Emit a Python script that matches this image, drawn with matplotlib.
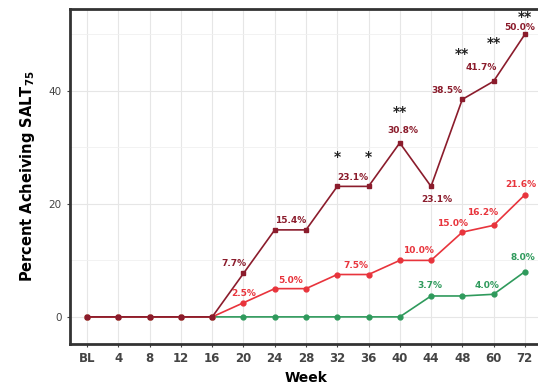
import matplotlib.pyplot as plt
import numpy as np

weeks = ['BL', '4', '8', '12', '16', '20', '24', '28', '32', '36', '40', '44', '48', '60', '72']
high_dose = [0, 0, 0, 0, 0, 7.7, 15.4, 15.4, 23.1, 23.1, 30.8, 23.1, 38.5, 41.7, 50.0]
low_dose = [0, 0, 0, 0, 0, 2.5, 5.0, 5.0, 7.5, 7.5, 10.0, 10.0, 15.0, 16.2, 21.6]
placebo = [0, 0, 0, 0, 0, 0, 0, 0, 0, 0, 0, 3.7, 3.7, 4.0, 8.0]

# (index, label text) pairs for value annotations
high_labels = [(5, '7.7%'), (6, '15.4%'), (8, '23.1%'), (10, '30.8%'), (11, '23.1%'),
               (12, '38.5%'), (13, '41.7%'), (14, '50.0%')]
low_labels = [(5, '2.5%'), (6, '5.0%'), (8, '7.5%'), (10, '10.0%'), (12, '15.0%'),
              (13, '16.2%'), (14, '21.6%')]
pbo_labels = [(11, '3.7%'), (13, '4.0%'), (14, '8.0%')]
stars = [(8, '*'), (9, '*'), (10, '**'), (12, '**'), (13, '**'), (14, '**')]

c_high = '#8b1c2c'
c_low = '#e8343c'
c_pbo = '#2f9a5c'

fig = plt.figure(figsize=(5.38, 3.84), dpi=100)
ax = fig.add_axes([70 / 538, 1 - 344 / 384, 472 / 538, 335 / 384])

x = np.arange(len(weeks))
ax.plot(x, placebo, color=c_pbo, lw=1.2, marker='o', ms=3.5, zorder=3)
ax.plot(x, low_dose, color=c_low, lw=1.2, marker='o', ms=3.5, zorder=4)
ax.plot(x, high_dose, color=c_high, lw=1.2, marker='s', ms=3.2, zorder=5)

# label offsets (dx in categories, dy in y units)
high_off = {5: (-0.3, 1.8), 6: (0.5, 1.6), 8: (0.5, 1.6), 10: (0.1, 2.2), 11: (0.2, -2.4),
            12: (-0.5, 1.5), 13: (-0.4, 2.4), 14: (-0.15, 1.2)}
low_off = {5: (0.0, 1.6), 6: (0.5, 1.5), 8: (0.6, 1.6), 10: (0.6, 1.8), 12: (-0.3, 1.6),
           13: (-0.35, 2.2), 14: (-0.12, 1.9)}
pbo_off = {11: (-0.05, 1.8), 13: (-0.2, 1.6), 14: (-0.05, 2.5)}

for labels, vals, off, col in [(high_labels, high_dose, high_off, c_high),
                               (low_labels, low_dose, low_off, c_low),
                               (pbo_labels, placebo, pbo_off, c_pbo)]:
    for i, txt in labels:
        dx, dy = off[i]
        ax.text(i + dx, vals[i] + dy, txt, color=col, fontsize=6.5, fontweight='bold',
                ha='center', va='center', zorder=6)

star_y = {8: 28.3, 9: 28.3, 10: 36.3, 12: 46.5, 13: 48.5, 14: 53.0}
for i, s in stars:
    ax.text(i, star_y[i], s, color='#222222', fontsize=10, fontweight='bold',
            ha='center', va='center')

ax.set_xlim(-0.55, 14.55)
ax.set_ylim(-4.8, 54.5)
ax.set_xticks(x)
ax.set_xticklabels(weeks)
ax.set_yticks([0, 20, 40])
ax.set_yticks([10, 30, 50], minor=True)
ax.tick_params(axis='both', labelsize=7.5, colors='#444444', length=2.5, width=0.8)
ax.tick_params(axis='y', which='minor', length=0)
ax.tick_params(axis='x', labelsize=8.5)
for lab in ax.get_xticklabels():
    lab.set_fontweight('bold')

ax.grid(True, which='major', color='#e6e6e6', lw=0.8)
ax.grid(True, which='minor', axis='y', color='#f0f0f0', lw=0.6)
ax.set_axisbelow(True)

for side in ['left', 'bottom', 'top']:
    ax.spines[side].set_linewidth(2)
    ax.spines[side].set_color('#333333')
ax.spines['right'].set_visible(False)

ax.set_xlabel('Week', fontsize=10, fontweight='bold', labelpad=4)
ax.set_ylabel(r'Percent Acheiving SALT$_{\mathbf{75}}$', fontsize=10.5, fontweight='bold', labelpad=8)

fig.savefig('out.png', dpi=100)
